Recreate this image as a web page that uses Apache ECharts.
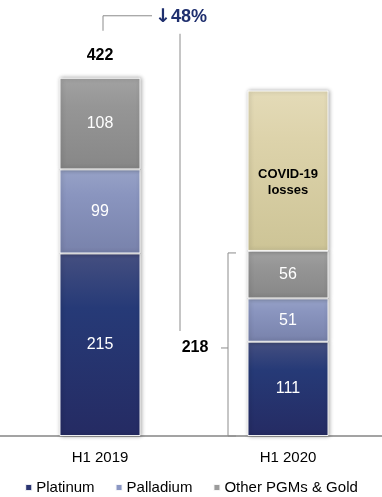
<!DOCTYPE html>
<html>
<head>
<meta charset="utf-8">
<script src="https://cdn.jsdelivr.net/npm/echarts@6/dist/echarts.min.js"></script>
<style>
html,body{margin:0;padding:0;background:#fff;}
#main{width:382px;height:497px;}
</style>
</head>
<body>
<div id="main"></div>
<script>
const categories = ['H1 2019', 'H1 2020'];
const platinum = [215, 111];
const palladium = [99, 51];
const otherPGMs = [108, 56];
const covidLosses = [null, 189];
const totals = [422, 218];
const changeArrow = '\u2193';
const changeLabel = '48%';
const covidLabel = 'COVID-19\nlosses';
const legendNames = ['Platinum', 'Palladium', 'Other PGMs & Gold'];

const FONT = '"Liberation Sans", Arial, sans-serif';
function grad(top, mid, bottom) {
  return new echarts.graphic.LinearGradient(0, 0, 0, 1, [
    {offset: 0, color: top}, {offset: 0.3, color: mid}, {offset: 1, color: bottom}
  ]);
}
const baseStyle = {
  borderColor: 'rgba(255,255,255,0.9)', borderWidth: 1,
  shadowColor: 'rgba(0,0,0,0.35)', shadowBlur: 4, shadowOffsetX: 1
};
function barSeries(name, data, color, labelOpt) {
  return {
    name, type: 'bar', stack: 'total', data, barWidth: 81,
    itemStyle: Object.assign({color}, baseStyle),
    label: Object.assign({
      show: true, position: 'inside', color: '#fff', fontSize: 16, fontFamily: FONT
    }, labelOpt || {})
  };
}

const chart = echarts.init(document.getElementById('main'), null, {renderer: 'canvas'});
const option = {
  animation: false,
  backgroundColor: '#fff',
  textStyle: {fontFamily: FONT},
  grid: {left: 6, width: 381, top: 54, bottom: 61},
  xAxis: {
    type: 'category', data: categories,
    axisLine: {show: false}, axisTick: {show: false},
    axisLabel: {color: '#000', fontSize: 15, margin: 14, fontFamily: FONT}
  },
  yAxis: {type: 'value', min: 0, max: 450, show: false, splitLine: {show: false}},
  legend: {
    data: [
      {name: legendNames[0], itemStyle: {color: '#2b3571'}},
      {name: legendNames[1], itemStyle: {color: '#8b97c3'}},
      {name: legendNames[2], itemStyle: {color: '#9b9b9b'}}
    ],
    top: 475, left: 'center', icon: 'rect', itemWidth: 7, itemHeight: 7, itemGap: 20,
    textStyle: {fontSize: 15, color: '#000', fontFamily: FONT, padding: [0, 0, 0, -1]}
  },
  series: [
    barSeries(legendNames[0], platinum, grad('#454f80', '#263a77', '#252b63')),
    barSeries(legendNames[1], palladium, grad('#97a2c7', '#8a95bf', '#7882ab')),
    barSeries(legendNames[2], otherPGMs, grad('#a2a2a2', '#969696', '#878787')),
    barSeries('COVID-19 losses', covidLosses, grad('#e4dbb8', '#ddd3ab', '#cdc496'), {
      color: '#000', fontSize: 13, fontWeight: 'bold', lineHeight: 16,
      formatter: covidLabel, offset: [0, 12]
    })
  ]
};
chart.setOption(option);

function px(ci, v) { return chart.convertToPixel({xAxisIndex: 0, yAxisIndex: 0}, [ci, v]); }
const [xL, yTopL] = px(0, totals[0]);
const [xR, yTopR] = px(1, totals[1]);
const y0 = px(0, 0)[1];
const lineStyle = {stroke: '#8c8c8c', lineWidth: 1, fill: null};
const yMid = (yTopR + y0) / 2 + 4.5;
const bx = xR - 60;
chart.setOption({
  graphic: [
    {type: 'line', shape: {x1: 0, y1: y0, x2: 382, y2: y0}, style: {stroke: '#a3a3a3', lineWidth: 2}, silent: true},
    {type: 'text', x: xL, y: yTopL - 22, style: {text: String(totals[0]), fill: '#000', font: 'bold 16px ' + FONT, textAlign: 'center', textVerticalAlign: 'middle'}},
    {type: 'polyline', shape: {points: [[xL + 3, yTopL - 47], [xL + 3, yTopL - 62], [xL + 52, yTopL - 62]]}, style: lineStyle},
    {type: 'text', x: xL + 55, y: yTopL - 61, style: {
      text: '{a|' + changeArrow + '}{b|' + changeLabel + '}',
      textAlign: 'left', textVerticalAlign: 'middle',
      rich: {
        a: {fill: '#1f2f6e', fontFamily: '"DejaVu Sans", sans-serif', fontWeight: 'bold', fontSize: 19},
        b: {fill: '#1f2f6e', fontFamily: FONT, fontWeight: 'bold', fontSize: 18}
      }
    }},
    {type: 'line', shape: {x1: xL + 80, y1: yTopL - 44, x2: xL + 80, y2: yMid - 17}, style: lineStyle},
    {type: 'polyline', shape: {points: [[bx + 8, yTopR + 2], [bx, yTopR + 2], [bx, y0], [bx + 8, y0]]}, style: lineStyle},
    {type: 'line', shape: {x1: bx - 7, y1: yMid, x2: bx, y2: yMid}, style: lineStyle},
    {type: 'text', x: xR - 93, y: yMid, style: {text: String(totals[1]), fill: '#000', font: 'bold 16px ' + FONT, textAlign: 'center', textVerticalAlign: 'middle'}}
  ]
});
</script>
</body>
</html>
